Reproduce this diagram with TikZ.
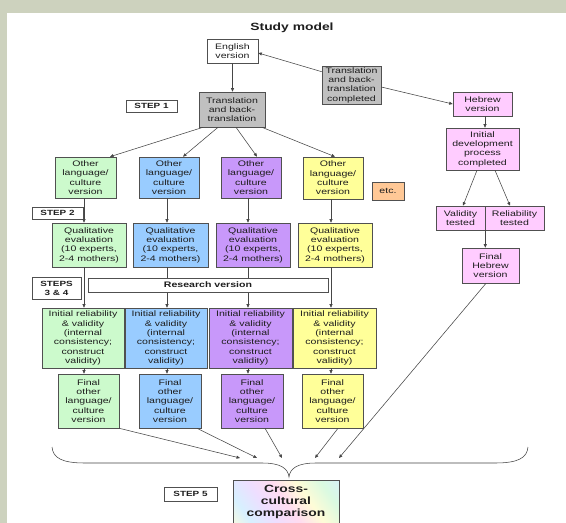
\documentclass[tikz,border=0pt]{standalone}
\usepackage{fontspec}
\setmainfont{Liberation Sans}[FakeStretch=1.32]
\usetikzlibrary{arrows.meta}
\definecolor{bordercol}{RGB}{205,210,190}
\definecolor{boxline}{RGB}{80,80,80}
\definecolor{lncol}{RGB}{70,70,70}
\definecolor{txt}{RGB}{30,30,30}
\definecolor{cgreen}{RGB}{204,250,204}
\definecolor{cblue}{RGB}{153,204,255}
\definecolor{cpurple}{RGB}{200,152,250}
\definecolor{cyellow}{RGB}{255,255,153}
\definecolor{cpink}{RGB}{255,204,255}
\definecolor{cgray}{RGB}{192,192,192}
\definecolor{corange}{RGB}{255,200,150}
\definecolor{rp1}{RGB}{255,220,240}
\definecolor{rp2}{RGB}{255,252,215}
\definecolor{rp3}{RGB}{218,250,225}
\definecolor{rp4}{RGB}{215,240,255}
\definecolor{rp5}{RGB}{238,222,255}
\pgfdeclarehorizontalshading{rainbowpastel}{100bp}{color(0bp)=(rp1); color(12bp)=(rp2); color(25bp)=(rp4); color(38bp)=(rp5); color(50bp)=(rp1); color(62bp)=(rp2); color(75bp)=(rp3); color(88bp)=(rp4); color(100bp)=(rp5)}
\begin{document}
\begin{tikzpicture}[x=1pt,y=-1pt,
  box/.style={draw=boxline, line width=0.6pt, inner sep=0pt, align=center,
    font=\fontsize{8}{9.3}\selectfont, text=txt},
  sz/.style 2 args={minimum width=#1pt, minimum height=#2pt},
  stepbox/.style={box, fill=white, font=\bfseries\fontsize{7.5}{9}\selectfont},
  ln/.style={draw=lncol, line width=0.55pt},
  arr/.style={ln, -{Triangle[length=3.5pt,width=3pt]}}
]
\useasboundingbox (0,0) rectangle (566,523);
\fill[bordercol] (0,0) rectangle (566,523);
\fill[white] (7,13) rectangle (566,523);

% columns
\coordinate (c1) at (84,0);
\coordinate (c2) at (167,0);
\coordinate (c3) at (248,0);
\coordinate (c4) at (331,0);
\coordinate (hx) at (485,0);
% arrow ends above the brace
\coordinate (e1) at (240,458);
\coordinate (e2) at (257,458);
\coordinate (e3) at (282,458);
\coordinate (e4) at (315,458);
\coordinate (e5) at (339,458);

\node[font=\bfseries\fontsize{10.5}{12}\selectfont, text=txt] (title) at (292,28) {Study model};

\node[box, fill=white, sz={51}{24}] (eng) at (232.5,51) {English\\version};
\node[box, fill=cgray, sz={59}{38}] (tbc) at (351.5,85) {Translation\\and back-\\translation\\completed};
\node[box, fill=cpink, sz={59}{24}] (heb) at (482.5,104) {Hebrew\\version};
\node[stepbox, sz={51}{12}] (s1) at (151.5,106) {STEP 1};
\node[box, fill=cgray, sz={66}{35}] (tb) at (232,109.5) {Translation\\and back-\\translation};

\node[box, fill=cgreen, sz={61}{41}] (o1) at (85.5,177.5) {Other\\language/\\culture\\version};
\node[box, fill=cblue, sz={60}{41}] (o2) at (169,177.5) {Other\\language/\\culture\\version};
\node[box, fill=cpurple, sz={60}{41}] (o3) at (251,177.5) {Other\\language/\\culture\\version};
\node[box, fill=cyellow, sz={60}{42}] (o4) at (333,178) {Other\\language/\\culture\\version};
\node[box, fill=corange, sz={32}{18}] (etc) at (388,191) {etc.};

\node[stepbox, sz={51}{12}] (s2) at (57.5,213) {STEP 2};
\node[box, fill=cgreen, sz={74}{44}] (q1) at (89,245) {Qualitative\\evaluation\\(10 experts,\\2-4 mothers)};
\node[box, fill=cblue, sz={75}{44}] (q2) at (170.5,245) {Qualitative\\evaluation\\(10 experts,\\2-4 mothers)};
\node[box, fill=cpurple, sz={74}{44}] (q3) at (253,245) {Qualitative\\evaluation\\(10 experts,\\2-4 mothers)};
\node[box, fill=cyellow, sz={74}{44}] (q4) at (335,245) {Qualitative\\evaluation\\(10 experts,\\2-4 mothers)};

\node[stepbox, sz={49}{22}, align=center] (s34) at (56.5,288) {STEPS\\3 \& 4};

\node[box, fill=cgreen, sz={82}{60}] (i1) at (83,338) {Initial reliability\\\& validity\\(internal\\consistency;\\construct\\validity)};
\node[box, fill=cblue, sz={82}{60}] (i2) at (166,338) {Initial reliability\\\& validity\\(internal\\consistency;\\construct\\validity)};
\node[box, fill=cpurple, sz={83}{60}] (i3) at (250.5,338) {Initial reliability\\\& validity\\(internal\\consistency;\\construct\\validity)};
\node[box, fill=cyellow, sz={83}{60}] (i4) at (334.5,338) {Initial reliability\\\& validity\\(internal\\consistency;\\construct\\validity)};

\node[box, fill=cgreen, sz={61}{54}] (f1) at (88.5,401) {Final\\other\\language/\\culture\\version};
\node[box, fill=cblue, sz={62}{54}] (f2) at (170,401) {Final\\other\\language/\\culture\\version};
\node[box, fill=cpurple, sz={62}{54}] (f3) at (252,401) {Final\\other\\language/\\culture\\version};
\node[box, fill=cyellow, sz={61}{54}] (f4) at (332.5,401) {Final\\other\\language/\\culture\\version};

\node[box, fill=cpink, sz={73}{42}] (idev) at (482.5,149) {Initial\\development\\process\\completed};
\node[box, fill=cpink, sz={49}{24}] (val) at (460.5,218) {Validity\\tested};
\node[box, fill=cpink, sz={59}{24}] (rel) at (514.5,218) {Reliability\\tested};
\node[box, fill=cpink, sz={57}{35}] (fheb) at (490.5,265.5) {Final\\Hebrew\\version};

\node[stepbox, sz={53}{14}] (s5) at (190.5,494) {STEP 5};
\node[box, shading=rainbowpastel, shading angle=35, sz={106}{44},
  font=\bfseries\fontsize{10.5}{12}\selectfont] (cross) at (286,502) {Cross-\\cultural\\comparison};

% connectors
\draw[arr] ([yshift=-6pt]tbc.north west) -- ([yshift=-2pt]eng.east);
\draw[arr] ([yshift=-2pt]tbc.east) -- (heb.west);
\draw[arr] (eng.south) -- (tb.north -| eng.south);
\draw[arr] ([xshift=-29pt]tb.south) -- ([xshift=24.5pt]o1.north);
\draw[arr] ([xshift=-14pt]tb.south) -- ([xshift=14pt]o2.north);
\draw[arr] ([xshift=4pt]tb.south) -- ([xshift=6pt]o3.north);
\draw[arr] ([xshift=30pt]tb.south) -- ([xshift=2pt]o4.north);

\draw[arr] (o1.south -| c1) -- (q1.north -| c1);
\draw[arr] (o2.south -| c2) -- (q2.north -| c2);
\draw[arr] (o3.south -| c3) -- (q3.north -| c3);
\draw[arr] (o4.south -| c4) -- (q4.north -| c4);

\draw[arr] (q1.south -| c1) -- (i1.north -| c1);
\draw[arr] (q2.south -| c2) -- (i2.north -| c2);
\draw[arr] (q3.south -| c3) -- (i3.north -| c3);
\draw[arr] (q4.south -| c4) -- (i4.north -| c4);

\draw[arr] (i1.south -| c1) -- (f1.north -| c1);
\draw[arr] (i2.south -| c2) -- (f2.north -| c2);
\draw[arr] (i3.south -| c3) -- (f3.north -| c3);
\draw[arr] (i4.south -| c4) -- (f4.north -| c4);

\draw[arr] (heb.south -| hx) -- (idev.north -| hx);
\draw[arr] ([xshift=-5.5pt]idev.south) -- ([xshift=2.5pt]val.north);
\draw[arr] ([xshift=12.5pt]idev.south) -- ([xshift=-4.5pt]rel.north);
\draw[arr] (val.south east) -- (fheb.north -| val.south east);

\draw[arr] (f1.south east) -- (e1);
\draw[arr] ([xshift=27pt]f2.south) -- (e2);
\draw[arr] ([xshift=13pt]f3.south) -- (e3);
\draw[arr] ([xshift=5.5pt]f4.south) -- (e4);
\draw[arr] ([xshift=-4.5pt]fheb.south) -- (e5);

% research version box on top of the column lines
\node[box, fill=white, sz={240}{14}, font=\bfseries\fontsize{8}{9.3}\selectfont] (rv) at (208,285) {Research version};

% brace
\coordinate (tip) at (289,477);
\draw[ln] (52,447) .. controls (53,458) and (62,463) .. (85,463) -- (262,463)
  .. controls (280,463) and (288,468) .. (tip)
  .. controls (290,468) and (298,463) .. (316,463) -- (495,463)
  .. controls (518,463) and (527,458) .. (528,447);
\end{tikzpicture}
\end{document}
